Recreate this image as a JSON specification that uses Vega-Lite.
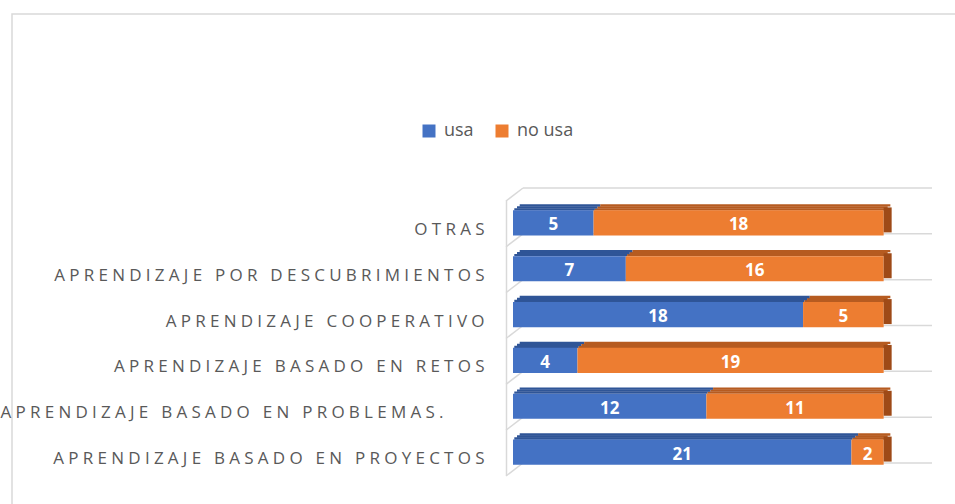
{
  "$schema": "https://vega.github.io/schema/vega-lite/v6.json",
  "width": 943,
  "height": 490,
  "autosize": {"type": "none"},
  "padding": {"left": 12, "top": 14, "right": 0, "bottom": 0},
  "config": {
    "view": {"stroke": "#d9d9d9", "strokeWidth": 1.5, "strokeDash": [943, 1433, 490]},
    "font": "Open Sans"
  },
  "data": {
    "values": [
      {"cat": "OTRAS", "grupo": "usa", "valor": 5},
      {"cat": "OTRAS", "grupo": "no usa", "valor": 18},
      {"cat": "APRENDIZAJE POR DESCUBRIMIENTOS", "grupo": "usa", "valor": 7},
      {"cat": "APRENDIZAJE POR DESCUBRIMIENTOS", "grupo": "no usa", "valor": 16},
      {"cat": "APRENDIZAJE COOPERATIVO", "grupo": "usa", "valor": 18},
      {"cat": "APRENDIZAJE COOPERATIVO", "grupo": "no usa", "valor": 5},
      {"cat": "APRENDIZAJE BASADO EN RETOS", "grupo": "usa", "valor": 4},
      {"cat": "APRENDIZAJE BASADO EN RETOS", "grupo": "no usa", "valor": 19},
      {"cat": "APRENDIZAJE BASADO EN PROBLEMAS.", "grupo": "usa", "valor": 12},
      {"cat": "APRENDIZAJE BASADO EN PROBLEMAS.", "grupo": "no usa", "valor": 11},
      {"cat": "APRENDIZAJE BASADO EN PROYECTOS", "grupo": "usa", "valor": 21},
      {"cat": "APRENDIZAJE BASADO EN PROYECTOS", "grupo": "no usa", "valor": 2}
    ]
  },
  "encoding": {
    "y": {
      "field": "cat",
      "type": "nominal",
      "sort": ["OTRAS", "APRENDIZAJE POR DESCUBRIMIENTOS", "APRENDIZAJE COOPERATIVO", "APRENDIZAJE BASADO EN RETOS", "APRENDIZAJE BASADO EN PROBLEMAS.", "APRENDIZAJE BASADO EN PROYECTOS"],
      "scale": {"range": [186, 461], "paddingInner": 0.45, "paddingOuter": 0.225},
      "axis": {
        "title": null,
        "orient": "left",
        "offset": -494,
        "ticks": false,
        "grid": false,
        "domain": true,
        "domainColor": "#d9d9d9",
        "domainWidth": 1.5,
        "labelPadding": {"condition": {"test": "datum.value === 'APRENDIZAJE BASADO EN PROBLEMAS.'", "value": 63}, "value": 22},
        "labelOffset": 7,
        "labelFont": "Open Sans",
        "labelFontSize": 17,
        "labelColor": "#595959",
        "labelLimit": 0,
        "labelExpr": "join(split(datum.label, ''), '\u2005')"
      }
    }
  },
  "layer": [
    {
      "transform": [{"filter": "datum.grupo === 'usa'"}],
      "mark": {"type": "rule", "color": "#d9d9d9", "strokeWidth": 1.5, "xOffset": 10, "yOffset": 10.9},
      "encoding": {
        "x": {"datum": 0, "type": "quantitative", "scale": {"domain": [0, 26], "range": [501, 920], "nice": false}, "axis": null},
        "x2": {"datum": 26}
      }
    },
    {
      "transform": [{"filter": "datum.grupo === 'usa' && datum.cat === 'OTRAS'"}],
      "mark": {"type": "rule", "color": "#d9d9d9", "strokeWidth": 1.5, "xOffset": 10, "yOffset": -34.9},
      "encoding": {
        "x": {"datum": 0, "type": "quantitative", "scale": {"domain": [0, 26], "range": [501, 920], "nice": false}, "axis": null},
        "x2": {"datum": 26}
      }
    },
    {
      "transform": [{"filter": "datum.grupo === 'usa'"}],
      "mark": {"type": "rule", "color": "#d9d9d9", "strokeWidth": 1.5, "xOffset": -7, "x2Offset": 10, "yOffset": 23.9, "y2Offset": 10.9},
      "encoding": {
        "x": {"datum": 0, "type": "quantitative", "scale": {"domain": [0, 26], "range": [501, 920], "nice": false}, "axis": null},
        "x2": {"datum": 0},
        "y2": {"field": "cat"}
      }
    },
    {
      "transform": [{"filter": "datum.grupo === 'usa' && datum.cat === 'OTRAS'"}],
      "mark": {"type": "rule", "color": "#d9d9d9", "strokeWidth": 1.5, "xOffset": -7, "x2Offset": 10, "yOffset": -21.9, "y2Offset": -34.9},
      "encoding": {
        "x": {"datum": 0, "type": "quantitative", "scale": {"domain": [0, 26], "range": [501, 920], "nice": false}, "axis": null},
        "x2": {"datum": 0},
        "y2": {"field": "cat"}
      }
    },
    {
      "mark": {"type": "bar", "height": 2.3, "yOffset": -13.6, "xOffset": 1.3, "x2Offset": 1.3},
      "encoding": {
        "x": {"field": "valor", "type": "quantitative", "stack": "zero", "scale": {"domain": [0, 26], "range": [501, 920], "nice": false}, "axis": null},
        "detail": {"field": "grupo"},
        "order": {"field": "grupo", "sort": "descending"},
        "color": {"condition": {"test": "datum.grupo === 'usa'", "value": "#2F5597"}, "value": "#B65B20"}
      }
    },
    {
      "mark": {"type": "bar", "height": 2.3, "yOffset": -15.6, "xOffset": 4, "x2Offset": 4},
      "encoding": {
        "x": {"field": "valor", "type": "quantitative", "stack": "zero", "scale": {"domain": [0, 26], "range": [501, 920], "nice": false}, "axis": null},
        "detail": {"field": "grupo"},
        "order": {"field": "grupo", "sort": "descending"},
        "color": {"condition": {"test": "datum.grupo === 'usa'", "value": "#2F5597"}, "value": "#B65B20"}
      }
    },
    {
      "mark": {"type": "bar", "height": 2.3, "yOffset": -17.6, "xOffset": 6.7, "x2Offset": 6.7},
      "encoding": {
        "x": {"field": "valor", "type": "quantitative", "stack": "zero", "scale": {"domain": [0, 26], "range": [501, 920], "nice": false}, "axis": null},
        "detail": {"field": "grupo"},
        "order": {"field": "grupo", "sort": "descending"},
        "color": {"condition": {"test": "datum.grupo === 'usa'", "value": "#2F5597"}, "value": "#B65B20"}
      }
    },
    {
      "mark": {"type": "bar"},
      "encoding": {
        "x": {"field": "valor", "type": "quantitative", "stack": "zero", "scale": {"domain": [0, 26], "range": [501, 920], "nice": false}, "axis": null},
        "order": {"field": "grupo", "sort": "descending"},
        "color": {
          "field": "grupo",
          "type": "nominal",
          "scale": {"domain": ["usa", "no usa"], "range": ["#4472C4", "#ED7D31"]},
          "legend": {
            "orient": "none",
            "legendX": 408,
            "legendY": 108,
            "direction": "horizontal",
            "title": null,
            "symbolType": "square",
            "symbolSize": 169,
            "symbolStrokeWidth": 0,
            "labelFont": "Open Sans",
            "labelFontSize": 18,
            "labelColor": "#595959",
            "labelOffset": 6,
            "columnPadding": 19,
            "padding": 0
          }
        }
      }
    },
    {
      "mark": {"type": "tick", "orient": "vertical", "thickness": 8, "size": 25, "xOffset": 4, "yOffset": -3, "color": "#9E4A17"},
      "encoding": {
        "x": {"field": "valor", "type": "quantitative", "stack": "zero", "scale": {"domain": [0, 26], "range": [501, 920], "nice": false}, "axis": null},
        "detail": {"field": "grupo"},
        "order": {"field": "grupo", "sort": "descending"},
        "opacity": {"condition": {"test": "datum.grupo === 'usa'", "value": 0}, "value": 1}
      }
    },
    {
      "mark": {"type": "text", "color": "white", "fontWeight": "bold", "fontSize": 17, "font": "Open Sans", "baseline": "middle", "yOffset": 2.5},
      "encoding": {
        "x": {"field": "valor", "type": "quantitative", "stack": "zero", "bandPosition": 0.5, "scale": {"domain": [0, 26], "range": [501, 920], "nice": false}, "axis": null},
        "detail": {"field": "grupo"},
        "order": {"field": "grupo", "sort": "descending"},
        "text": {"field": "valor", "type": "quantitative"}
      }
    }
  ]
}
